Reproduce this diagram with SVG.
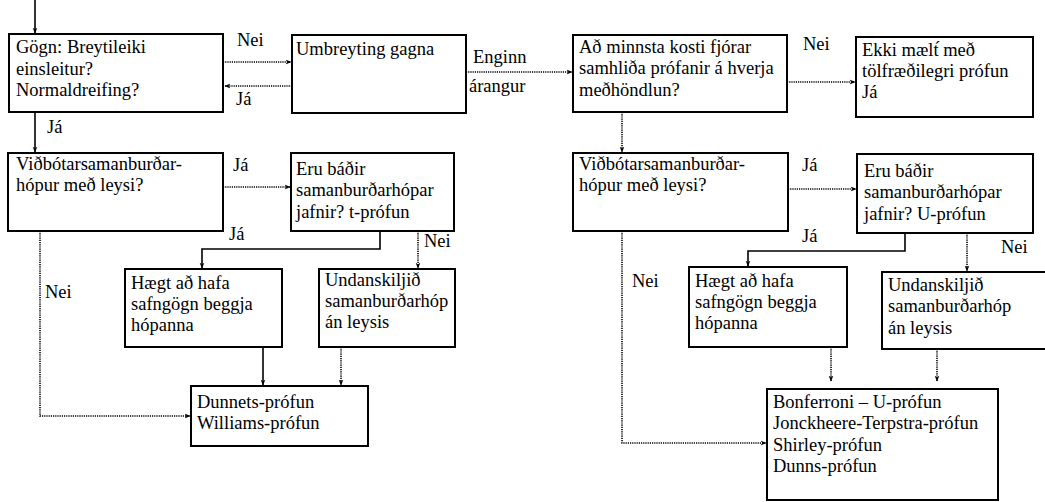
<svg xmlns="http://www.w3.org/2000/svg" width="1045" height="502" viewBox="0 0 1045 502">
  <style>
    .box { fill: #fff; stroke: #000; stroke-width: 2; }
    text { font-family: 'Liberation Serif', 'DejaVu Serif', serif; font-size: 18.5px; fill: #000; }
    .solid { fill: none; stroke: #000; stroke-width: 1.6; }
    .dot { fill: none; stroke: #000; stroke-width: 1.6; stroke-dasharray: 1.2 1; }
  </style>
  <defs>
    <marker id="ah" viewBox="0 0 10 10" refX="9" refY="5" markerWidth="6" markerHeight="6" orient="auto" markerUnits="userSpaceOnUse">
      <path d="M0,1 L10,5 L0,9 L3,5 Z" fill="#000"/>
    </marker>
  </defs>

  <!-- connectors -->
  <g id="connectors">
    <path class="solid" d="M35,0 V33" marker-end="url(#ah)"/>
    <path class="dot" d="M223,62 H291" marker-end="url(#ah)"/>
    <path class="dot" d="M292,86 H225" marker-end="url(#ah)"/>
    <path class="dot" d="M466,72 H572" marker-end="url(#ah)"/>
    <path class="dot" d="M787,82 H855" marker-end="url(#ah)"/>
    <path class="solid" d="M35,112 V152" marker-end="url(#ah)"/>
    <path class="dot" d="M622,112 V152" marker-end="url(#ah)"/>
    <path class="dot" d="M223,187 H290" marker-end="url(#ah)"/>
    <path class="dot" d="M788,189 H856" marker-end="url(#ah)"/>
    <path class="solid" d="M380,231 V249 H202 V268" marker-end="url(#ah)"/>
    <path class="dot" d="M418,231 V268" marker-end="url(#ah)"/>
    <path class="solid" d="M905,233 V251 H748 V266" marker-end="url(#ah)"/>
    <path class="dot" d="M967,233 V271" marker-end="url(#ah)"/>
    <path class="dot" d="M40,231 V416 H190" marker-end="url(#ah)"/>
    <path class="solid" d="M263,347 V385" marker-end="url(#ah)"/>
    <path class="dot" d="M341,347 V385" marker-end="url(#ah)"/>
    <path class="dot" d="M622,231 V443 H766" marker-end="url(#ah)"/>
    <path class="dot" d="M831,347 V381" marker-end="url(#ah)"/>
    <path class="dot" d="M937,349 V381" marker-end="url(#ah)"/>
  </g>

  <!-- connector labels -->
  <g id="labels">
    <text x="237" y="46">Nei</text>
    <text x="236" y="105">Já</text>
    <text x="473" y="63">Enginn</text>
    <text x="469" y="92">árangur</text>
    <text x="803" y="50">Nei</text>
    <text x="47" y="133">Já</text>
    <text x="233" y="171">Já</text>
    <text x="802" y="171">Já</text>
    <text x="229" y="240">Já</text>
    <text x="424" y="247">Nei</text>
    <text x="802" y="242">Já</text>
    <text x="1001" y="253">Nei</text>
    <text x="45" y="298">Nei</text>
    <text x="632" y="287">Nei</text>
  </g>

  <g id="n-gogn">
    <rect class="box" x="9" y="34" width="214" height="78"/>
    <text x="16" y="53">Gögn: Breytileiki</text>
    <text x="16" y="75">einsleitur?</text>
    <text x="16" y="96">Normaldreifing?</text>
  </g>

  <g id="n-umbreyting">
    <rect class="box" x="292" y="35" width="174" height="78"/>
    <text x="296" y="55">Umbreyting gagna</text>
  </g>

  <g id="n-fjorar">
    <rect class="box" x="573" y="35" width="214" height="77"/>
    <text x="579" y="53">Að minnsta kosti fjórar</text>
    <text x="579" y="74">samhliða prófanir á hverja</text>
    <text x="579" y="96">meðhöndlun?</text>
  </g>

  <g id="n-ekki">
    <rect class="box" x="856" y="37" width="177" height="80"/>
    <text x="862" y="56">Ekki mælt́ með</text>
    <text x="862" y="77">tölfræðilegri prófun</text>
    <text x="862" y="98">Já</text>
  </g>

  <g id="n-vidbot-l">
    <rect class="box" x="8" y="153" width="215" height="78"/>
    <text x="16" y="170">Viðbótarsamanburðar-</text>
    <text x="16" y="191">hópur með leysi?</text>
  </g>

  <g id="n-erubadir-l">
    <rect class="box" x="291" y="153" width="163" height="78"/>
    <text x="296" y="175">Eru báðir</text>
    <text x="296" y="196">samanburðarhópar</text>
    <text x="296" y="218">jafnir? t-prófun</text>
  </g>

  <g id="n-vidbot-r">
    <rect class="box" x="573" y="153" width="215" height="78"/>
    <text x="579" y="170">Viðbótarsamanburðar-</text>
    <text x="579" y="191">hópur með leysi?</text>
  </g>

  <g id="n-erubadir-r">
    <rect class="box" x="857" y="154" width="176" height="79"/>
    <text x="864" y="177">Eru báðir</text>
    <text x="864" y="198">samanburðarhópar</text>
    <text x="864" y="220">jafnir? U-prófun</text>
  </g>

  <g id="n-haegt-l">
    <rect class="box" x="125" y="269" width="157" height="78"/>
    <text x="131" y="289">Hægt að hafa</text>
    <text x="131" y="310">safngögn beggja</text>
    <text x="131" y="331">hópanna</text>
  </g>

  <g id="n-undan-l">
    <rect class="box" x="319" y="269" width="136" height="78"/>
    <text x="325" y="286">Undanskiljið</text>
    <text x="325" y="307">samanburðarhóp</text>
    <text x="325" y="328">án leysis</text>
  </g>

  <g id="n-dunnets">
    <rect class="box" x="191" y="386" width="177" height="60"/>
    <text x="197" y="408">Dunnets-prófun</text>
    <text x="197" y="429">Williams-prófun</text>
  </g>

  <g id="n-haegt-r">
    <rect class="box" x="689" y="267" width="158" height="80"/>
    <text x="695" y="287">Hægt að hafa</text>
    <text x="695" y="308">safngögn beggja</text>
    <text x="695" y="329">hópanna</text>
  </g>

  <g id="n-undan-r">
    <rect class="box" x="882" y="272" width="165" height="77"/>
    <text x="888" y="291">Undanskiljið</text>
    <text x="888" y="312">samanburðarhóp</text>
    <text x="888" y="334">án leysis</text>
  </g>

  <g id="n-bonferroni">
    <rect class="box" x="767" y="389" width="231" height="111"/>
    <text x="773" y="408">Bonferroni – U-prófun</text>
    <text x="773" y="429">Jonckheere-Terpstra-prófun</text>
    <text x="773" y="451">Shirley-prófun</text>
    <text x="773" y="472">Dunns-prófun</text>
  </g>
</svg>
